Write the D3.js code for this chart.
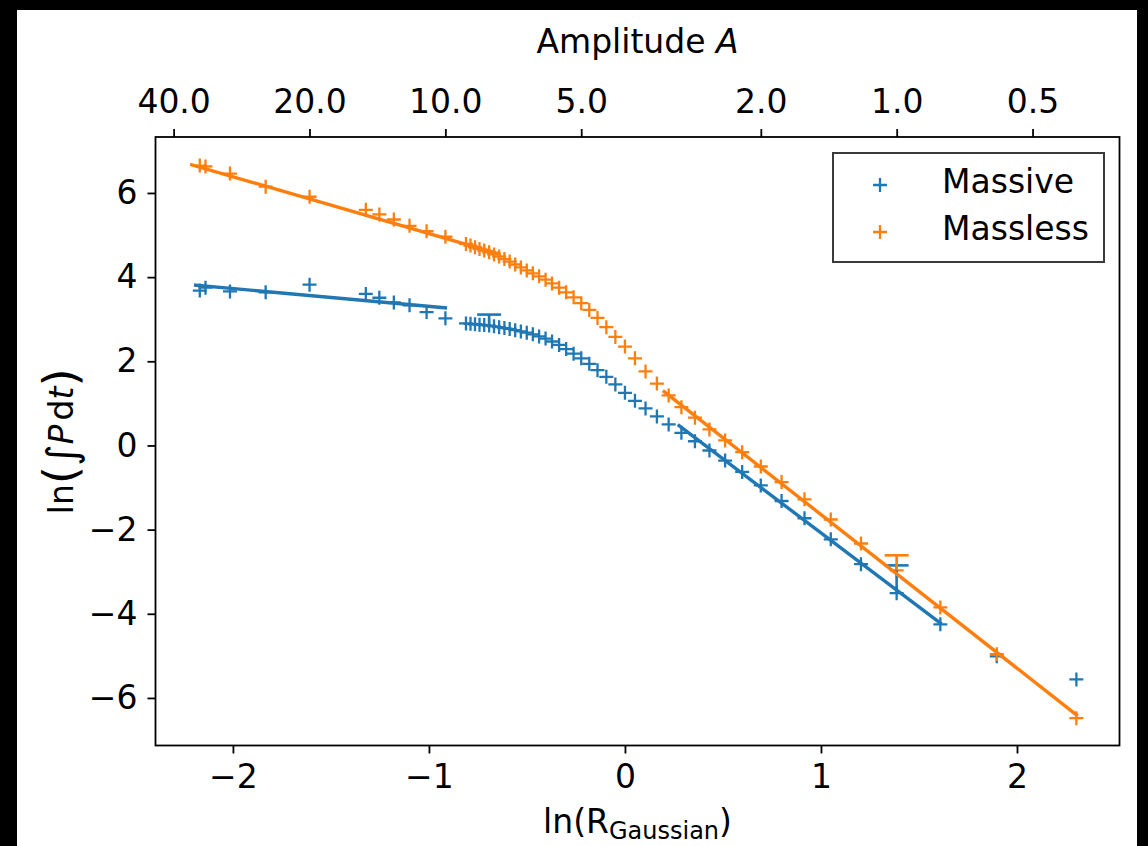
<!DOCTYPE html>
<html>
<head>
<meta charset="utf-8">
<script src="https://cdn.jsdelivr.net/npm/d3@7"></script>
<style>
  body { margin: 0; background: #000; }
  svg { display: block; font-family: "DejaVu Sans", sans-serif; }
</style>
</head>
<body>
<div id="chart"></div>
<script>
// amplitude A of each run and the matching ln(R_Gaussian)
const amplitude = [0.4, 0.6, 0.8, 1.0, 1.2, 1.4, 1.6, 1.8, 2.0, 2.2, 2.4, 2.6, 2.8, 3.0, 3.2, 3.4, 3.6, 3.8,
  4.0, 4.2, 4.4, 4.6, 4.8, 5.0, 5.2, 5.4, 5.6, 5.8, 6.0, 6.2, 6.4, 6.6, 6.8, 7.0, 7.2, 7.4, 7.6, 7.8,
  8.0, 8.2, 8.4, 8.6, 8.8, 9.0, 10, 11, 12, 13, 14, 15, 20, 25, 30, 34, 35];
const lnR = [2.303, 1.897, 1.609, 1.386, 1.204, 1.05, 0.916, 0.799, 0.693, 0.598, 0.511, 0.431, 0.357,
  0.288, 0.223, 0.163, 0.105, 0.051, 0.0, -0.049, -0.095, -0.14, -0.182, -0.223, -0.262, -0.3, -0.336,
  -0.372, -0.405, -0.438, -0.47, -0.501, -0.531, -0.56, -0.588, -0.615, -0.642, -0.668, -0.693, -0.718,
  -0.742, -0.765, -0.788, -0.811, -0.916, -1.012, -1.099, -1.179, -1.253, -1.322, -1.609, -1.833,
  -2.015, -2.14, -2.169];
const massive = [-5.56, -5.01, -4.25, -3.51, -2.82, -2.23, -1.73, -1.32, -0.95, -0.63, -0.36, -0.12, 0.1,
  0.3, 0.5, 0.69, 0.88, 1.06, 1.25, 1.45, 1.63, 1.79, 1.94, 2.07, 2.18, 2.29, 2.39, 2.47, 2.54, 2.59,
  2.64, 2.68, 2.71, 2.74, 2.77, 2.79, 2.81, 2.83, 2.85, 2.86, 2.87, 2.88, 2.89, 2.9, 3.02, 3.17, 3.33,
  3.4, 3.51, 3.6, 3.82, 3.64, 3.66, 3.75, 3.68];
const massless = [-6.48, -4.96, -3.85, -2.97, -2.33, -1.76, -1.28, -0.87, -0.5, -0.16, 0.12, 0.38, 0.66,
  0.91, 1.19, 1.47, 1.76, 2.07, 2.35, 2.58, 2.81, 3.03, 3.22, 3.38, 3.52, 3.64, 3.75, 3.85, 3.94, 4.02,
  4.09, 4.16, 4.23, 4.3, 4.37, 4.43, 4.49, 4.54, 4.59, 4.63, 4.67, 4.71, 4.75, 4.79, 4.96, 5.09, 5.22,
  5.37, 5.49, 5.6, 5.91, 6.15, 6.46, 6.63, 6.65];
// upper error, by amplitude (the rest are too small to see)
const massiveErrUp = new Map([[1.0, 0.66], [8.0, 0.26]]);
const masslessErrUp = new Map([[1.0, 0.36]]);
// straight-line fits, endpoints in data units
const massiveFits = [[[-2.19, 3.81], [-0.916, 3.27]], [[0.276, 0.47], [1.609, -4.22]]];
const masslessFits = [[[-2.21, 6.67], [-0.642, 4.55]], [[0.2, 1.28], [2.303, -6.4]]];

const xTicks = [-2, -1, 0, 1, 2];
const yTicks = [-6, -4, -2, 0, 2, 4, 6];
const topTicks = [40, 20, 10, 5, 2, 1, 0.5];
const topTickLabels = ["40.0", "20.0", "10.0", "5.0", "2.0", "1.0", "0.5"];

const width = 1148,
  height = 846;
const plotLeft = 155.5,
  plotRight = 1119.5,
  plotTop = 137,
  plotBottom = 745.5;
const blue = "#1f77b4",
  orange = "#ff7f0e";
const fontSize = "33px";

const x = d3.scaleLinear().domain([-2.395, 2.523]).range([plotLeft, plotRight]);
const y = d3.scaleLinear().domain([-7.13, 7.33]).range([plotBottom, plotTop]);

const svg = d3
  .select("#chart")
  .append("svg")
  .attr("width", width)
  .attr("height", height);

svg.append("rect").attr("width", width).attr("height", height).attr("fill", "#000");
svg.append("rect").attr("x", 17).attr("y", 10).attr("width", 1120).attr("height", 836).attr("fill", "#fff");

const plus = "M-7,0H7M0,-7V7";

function drawSeries(values, color) {
  svg
    .append("g")
    .selectAll("path")
    .data(values.map((v, i) => [lnR[i], v]))
    .enter()
    .append("path")
    .attr("d", plus)
    .attr("transform", (d) => `translate(${x(d[0])},${y(d[1])})`)
    .attr("fill", "none")
    .attr("stroke", color)
    .attr("stroke-width", 2.3);
}

function drawErrors(values, errs, color) {
  const g = svg.append("g").attr("stroke", color).attr("stroke-width", 2.6);
  amplitude.forEach((a, i) => {
    if (!errs.has(a)) return;
    const cx = x(lnR[i]),
      y0 = y(values[i]),
      y1 = y(values[i] + errs.get(a));
    g.append("line").attr("x1", cx).attr("x2", cx).attr("y1", y0).attr("y2", y1);
    g.append("line").attr("x1", cx - 12).attr("x2", cx + 12).attr("y1", y1).attr("y2", y1);
  });
}

function drawFits(fits, color) {
  const line = d3.line().x((d) => x(d[0])).y((d) => y(d[1]));
  svg
    .append("g")
    .selectAll("path")
    .data(fits)
    .enter()
    .append("path")
    .attr("d", line)
    .attr("fill", "none")
    .attr("stroke", color)
    .attr("stroke-width", 3.4)
    .attr("stroke-linecap", "square");
}

drawSeries(massive, blue);
drawSeries(massless, orange);
drawErrors(massive, massiveErrUp, blue);
drawErrors(massless, masslessErrUp, orange);
drawFits(massiveFits, blue);
drawFits(masslessFits, orange);

// axes
const minus = (v) => String(v).replace("-", "\u2212");
const gx = svg
  .append("g")
  .attr("transform", `translate(0,${plotBottom})`)
  .call(d3.axisBottom(x).tickValues(xTicks).tickFormat(minus).tickSize(8).tickPadding(11));
const gy = svg
  .append("g")
  .attr("transform", `translate(${plotLeft},0)`)
  .call(d3.axisLeft(y).tickValues(yTicks).tickFormat(minus).tickSize(8).tickPadding(10));
const gt = svg
  .append("g")
  .attr("transform", `translate(0,${plotTop})`)
  .call(
    d3
      .axisTop(x)
      .tickValues(topTicks.map((a) => Math.log(4 / a)))
      .tickFormat((d, i) => topTickLabels[i])
      .tickSize(8)
      .tickPadding(16)
  );

[gx, gy, gt].forEach((g) => {
  g.select(".domain").remove();
  g.selectAll(".tick line").attr("stroke", "#000").attr("stroke-width", 1.8);
  g.selectAll(".tick text")
    .attr("fill", "#000")
    .style("font-size", fontSize)
    .style("font-family", "DejaVu Sans, sans-serif");
});

svg
  .append("rect")
  .attr("x", plotLeft)
  .attr("y", plotTop)
  .attr("width", plotRight - plotLeft)
  .attr("height", plotBottom - plotTop)
  .attr("fill", "none")
  .attr("stroke", "#000")
  .attr("stroke-width", 1.8);

// axis labels
const xl = svg
  .append("text")
  .attr("x", (plotLeft + plotRight) / 2)
  .attr("y", 833)
  .attr("text-anchor", "middle")
  .style("font-size", fontSize);
xl.append("tspan").text("ln(R");
xl.append("tspan").attr("dy", 6).style("font-size", "24px").text("Gaussian");
xl.append("tspan").attr("dy", -6).text(")");

const tl = svg
  .append("text")
  .attr("x", (plotLeft + plotRight) / 2)
  .attr("y", 53)
  .attr("text-anchor", "middle")
  .style("font-size", fontSize);
tl.append("tspan").text("Amplitude ");
tl.append("tspan").style("font-style", "italic").text("A");

const yl = svg
  .append("text")
  .attr("transform", `translate(73,${(plotTop + plotBottom) / 2}) rotate(-90)`)
  .attr("text-anchor", "middle")
  .style("font-size", fontSize);
yl.append("tspan").text("ln");
yl.append("tspan").style("font-size", "47px").attr("dy", 3).text("(");
yl.append("tspan").style("font-size", "41px").text("\u222B");
yl.append("tspan").style("font-style", "italic").attr("dy", -3).text("P");
yl.append("tspan").attr("dx", 4).text("d");
yl.append("tspan").style("font-style", "italic").text("t");
yl.append("tspan").style("font-size", "47px").attr("dy", 3).text(")");

// legend
const legend = svg.append("g");
legend
  .append("rect")
  .attr("x", 833)
  .attr("y", 153)
  .attr("width", 271)
  .attr("height", 109)
  .attr("fill", "#fff")
  .attr("stroke", "#3a3a3a")
  .attr("stroke-width", 2);
[
  ["Massive", blue],
  ["Massless", orange],
].forEach(([name, color], i) => {
  legend
    .append("path")
    .attr("d", plus)
    .attr("transform", `translate(880,${185 + i * 47})`)
    .attr("fill", "none")
    .attr("stroke", color)
    .attr("stroke-width", 2.3);
  legend
    .append("text")
    .attr("x", 942)
    .attr("y", 193 + i * 47)
    .style("font-size", fontSize)
    .text(name);
});
</script>
</body>
</html>
